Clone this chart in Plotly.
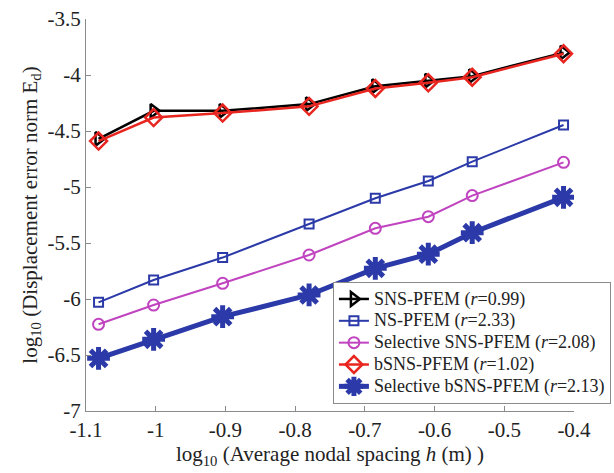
import plotly.graph_objects as go

x_vals = [-1.082, -1.003, -0.904, -0.780, -0.685, -0.609, -0.546, -0.415]

sns_pfem = [-4.57, -4.32, -4.32, -4.26, -4.10, -4.05, -4.01, -3.80]
ns_pfem = [-6.03, -5.83, -5.63, -5.33, -5.10, -4.946, -4.774, -4.446]
sel_sns_pfem = [-6.226, -6.054, -5.86, -5.607, -5.369, -5.265, -5.077, -4.78]
bsns_pfem = [-4.59, -4.38, -4.34, -4.28, -4.12, -4.07, -4.02, -3.81]
sel_bsns_pfem = [-6.53, -6.36, -6.158, -5.964, -5.726, -5.60, -5.408, -5.092]

names = [
    "SNS-PFEM (<i>r</i>=0.99)",
    "NS-PFEM (<i>r</i>=2.33)",
    "Selective SNS-PFEM (<i>r</i>=2.08)",
    "bSNS-PFEM (<i>r</i>=1.02)",
    "Selective bSNS-PFEM (<i>r</i>=2.13)",
]

y_ticks = [-7, -6.5, -6, -5.5, -5, -4.5, -4, -3.5]
x_ticks = [-1.1, -1, -0.9, -0.8, -0.7, -0.6, -0.5, -0.4]

BLUE = "#2b3aa8"
MAG = "#c044c0"
RED = "#e8251f"
BLK = "#000000"

FONT = "Liberation Serif, Times New Roman, serif"


def big(s):
    return '<span style="font-size:18px">' + s + '</span>'


fig = go.Figure()
fig.add_trace(go.Scatter(x=x_vals, y=sns_pfem, name=big(names[0]), mode="lines+markers",
                         line=dict(color=BLK, width=2.5),
                         marker=dict(symbol="triangle-right-open", size=12, color=BLK, line=dict(width=2.5, color=BLK))))
fig.add_trace(go.Scatter(x=x_vals, y=ns_pfem, name=big(names[1]), mode="lines+markers",
                         line=dict(color=BLUE, width=2),
                         marker=dict(symbol="square-open", size=9, color=BLUE, line=dict(width=2, color=BLUE))))
fig.add_trace(go.Scatter(x=x_vals, y=sel_sns_pfem, name=big(names[2]), mode="lines+markers",
                         line=dict(color=MAG, width=2),
                         marker=dict(symbol="circle-open", size=11, color=MAG, line=dict(width=2, color=MAG))))
fig.add_trace(go.Scatter(x=x_vals, y=bsns_pfem, name=big(names[3]), mode="lines+markers",
                         line=dict(color=RED, width=2.5),
                         marker=dict(symbol="diamond-open", size=13, color=RED, line=dict(width=2.5, color=RED))))
fig.add_trace(go.Scatter(x=x_vals, y=sel_bsns_pfem, name=big(names[4]), mode="lines+markers",
                         line=dict(color=BLUE, width=5),
                         marker=dict(symbol="asterisk-open", size=19, color=BLUE, line=dict(width=5, color=BLUE))))

axis_common = dict(
    showline=True, linecolor="#8a8a8a", linewidth=1,
    ticks="inside", ticklen=5, tickcolor="#8a8a8a",
    showgrid=False, zeroline=False, mirror=False, automargin=False,
    tickfont=dict(family=FONT, size=21, color="#222"),
)

fig.update_xaxes(range=[-1.1, -0.4], tickvals=x_ticks,
                 ticktext=["-1.1", "-1", "-0.9", "-0.8", "-0.7", "-0.6", "-0.5", "-0.4"],
                 title=dict(text="log<sub>10</sub> (Average nodal spacing <i>h</i> (m) )",
                            font=dict(family=FONT, size=21, color="#222"), standoff=2),
                 **axis_common)
fig.update_yaxes(range=[-7, -3.5], tickvals=y_ticks,
                 ticktext=["-7", "-6.5", "-6", "-5.5", "-5", "-4.5", "-4", "-3.5"],
                 title=dict(text="log<sub>10</sub> (Displacement error norm E<sub>d</sub>)",
                            font=dict(family=FONT, size=21, color="#222"), standoff=4),
                 **axis_common)

fig.update_layout(
    width=614, height=473,
    margin=dict(l=86, r=40, t=19, b=62, autoexpand=False),
    plot_bgcolor="white", paper_bgcolor="white",
    font=dict(family=FONT, color="#222"),
    legend=dict(x=0.506, y=0.329, xanchor="left", yanchor="top",
                bgcolor="white", bordercolor="#8a8a8a", borderwidth=1,
                font=dict(family=FONT, size=14.5, color="#222"),
                tracegroupgap=0, itemwidth=30),
)

fig.write_html("out.html")
